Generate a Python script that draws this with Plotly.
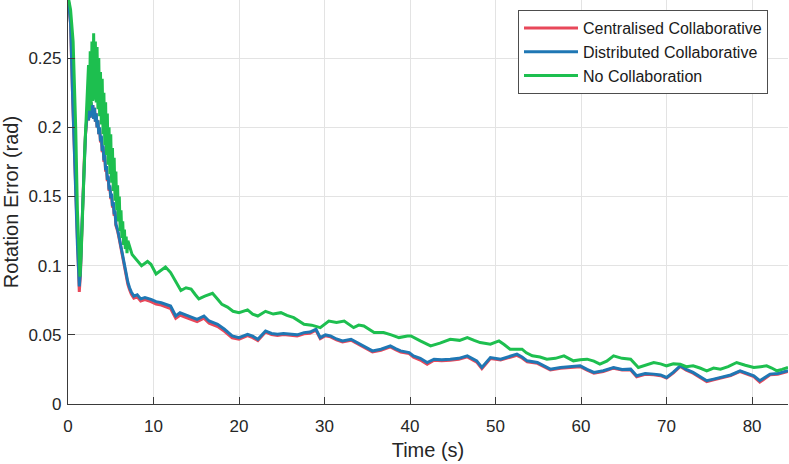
import plotly.graph_objects as go

# No Collaboration
t_none = [0, 0.3, 0.6, 0.9, 1.1, 1.3, 1.4, 1.55, 1.7, 1.85, 2.0, 2.15, 2.3,
          2.4, 2.5, 2.6, 2.7, 2.8, 2.9, 3.0, 3.1, 3.2, 3.3, 3.4, 3.5, 3.6, 3.7, 3.8, 3.9,
          4.0, 4.1, 4.2, 4.3, 4.4, 4.5, 4.6, 4.7, 4.8, 4.9, 5.0, 5.1, 5.2, 5.3, 5.4, 5.5,
          5.6, 5.7, 5.8, 5.9, 6.0, 6.1, 6.2, 6.3, 6.4, 6.5, 6.6, 6.7, 6.8, 6.9, 7.0,
          7.5, 8.1, 8.6, 9.3, 9.7, 10.3, 10.8, 11.4, 12.0, 12.6, 13.2, 13.8, 14.4, 14.9,
          15.3, 16.0, 16.9, 17.6, 18.0, 18.65, 19.3, 20.0, 21.0, 21.6, 22.2, 23.1, 24.0,
          24.9, 25.6, 26.4, 27.0, 27.6, 28.5, 29.5, 30.5, 31.4, 32.3, 33.4, 34.0, 34.6,
          35.8, 36.9, 37.8, 38.7, 39.7, 40.1, 41.2, 42.4, 43.5, 44.7, 45.8, 46.7, 47.5,
          48.2, 49.4, 50.4, 51.0, 51.7, 53.1, 53.6, 54.3, 55.2, 56.0, 57.0, 58.0, 59.1,
          59.9, 60.7, 61.5, 62.2, 63.0, 63.8, 64.8, 65.8, 66.7, 67.5, 68.5, 69.3, 70.0,
          70.8, 71.6, 72.3, 73.1, 73.9, 74.7, 75.5, 76.3, 77.2, 78.2, 79.2, 80.2, 81.0,
          81.7, 82.3, 82.9, 83.5, 84.2]
err_none = [0.295, 0.285, 0.262, 0.2, 0.14, 0.1, 0.092, 0.11, 0.143, 0.17, 0.19, 0.21, 0.235,
            0.245, 0.212, 0.255, 0.216, 0.262, 0.219, 0.268, 0.220, 0.262, 0.218, 0.258, 0.213,
            0.250, 0.208, 0.240, 0.202, 0.235, 0.195, 0.225, 0.187, 0.218, 0.180, 0.210, 0.173,
            0.200, 0.166, 0.195, 0.160, 0.185, 0.154, 0.178, 0.147, 0.168, 0.140, 0.158, 0.132,
            0.150, 0.125, 0.140, 0.120, 0.132, 0.115, 0.126, 0.112, 0.121, 0.109, 0.118,
            0.108, 0.104, 0.100, 0.103, 0.101, 0.094, 0.096, 0.099, 0.095, 0.088, 0.082, 0.084,
            0.083, 0.079, 0.076, 0.078, 0.080, 0.075, 0.072, 0.070, 0.067, 0.066, 0.068, 0.065,
            0.0636, 0.067, 0.065, 0.066, 0.064, 0.0624, 0.060, 0.0576, 0.057, 0.0552, 0.060,
            0.059, 0.060, 0.0552, 0.057, 0.0564, 0.0516, 0.0516, 0.050, 0.048, 0.0492, 0.0492,
            0.0456, 0.042, 0.044, 0.0468, 0.046, 0.048, 0.046, 0.0444, 0.0432, 0.0456, 0.043,
            0.0396, 0.0396, 0.037, 0.0348, 0.034, 0.0324, 0.033, 0.0348, 0.0312, 0.032, 0.0324,
            0.031, 0.0288, 0.031, 0.0348, 0.033, 0.0324, 0.0264, 0.028, 0.030, 0.029, 0.0276,
            0.029, 0.0288, 0.027, 0.0276, 0.026, 0.024, 0.026, 0.0252, 0.027, 0.030, 0.028,
            0.0264, 0.027, 0.0276, 0.026, 0.024, 0.025, 0.0264]

# Distributed / Centralised share the same time samples
t_collab = [0, 0.3, 0.55, 0.75, 0.93, 1.1, 1.32, 1.45, 1.6, 1.75, 1.9, 2.05, 2.2,
            2.3, 2.4, 2.5, 2.6, 2.7, 2.8, 2.9, 3.0, 3.1, 3.2, 3.3, 3.4, 3.5, 3.6, 3.7, 3.8,
            3.9, 4.0, 4.1, 4.2, 4.3, 4.4, 4.5, 4.6, 4.7, 4.8, 4.9, 5.0, 5.1, 5.2, 5.3, 5.4,
            5.5, 5.6, 5.8, 6.0, 6.2, 6.4, 6.6, 6.8, 7.0, 7.2, 7.4, 7.7, 8.1, 8.5, 9.0, 9.7,
            10.3, 10.9, 11.5, 12.0, 12.6, 13.1, 13.6, 14.3, 15.1, 15.9, 16.5, 17.5, 18.3,
            19.2, 20.0, 21.0, 21.6, 22.2, 23.1, 23.8, 24.5, 25.2, 26.0, 26.8, 27.6, 28.3,
            29.0, 29.5, 30.1, 30.7, 31.4, 32.1, 33.1, 34.2, 34.9, 35.6, 36.6, 37.7, 38.3,
            38.9, 39.9, 40.4, 41.2, 42.0, 42.8, 43.7, 44.7, 45.7, 46.7, 47.3, 47.8, 48.4,
            49.4, 50.6, 51.5, 52.5, 53.1, 53.7, 54.9, 55.6, 56.4, 57.6, 58.7, 59.9, 60.7,
            61.5, 62.6, 63.8, 64.8, 65.8, 66.5, 67.5, 68.5, 69.3, 70.0, 70.8, 71.6, 72.3,
            73.1, 73.9, 74.7, 75.5, 76.3, 77.5, 78.6, 79.4, 80.2, 80.9, 81.5, 82.1, 83.0, 84.2]
err_dist = [0.295, 0.275, 0.22, 0.18, 0.148, 0.115, 0.085, 0.095, 0.124, 0.15, 0.176, 0.195, 0.207,
            0.212, 0.205, 0.215, 0.207, 0.218, 0.208, 0.216, 0.206, 0.214, 0.204, 0.210, 0.200,
            0.205, 0.195, 0.200, 0.190, 0.194, 0.183, 0.187, 0.176, 0.180, 0.169, 0.172, 0.162,
            0.165, 0.155, 0.158, 0.149, 0.152, 0.143, 0.146, 0.137, 0.140, 0.130, 0.126, 0.120,
            0.113, 0.106, 0.100, 0.094, 0.088, 0.084, 0.081, 0.078, 0.079, 0.076, 0.077, 0.0756,
            0.074, 0.0732, 0.072, 0.0708, 0.0636, 0.066, 0.0648, 0.063, 0.0612, 0.0636, 0.060,
            0.0576, 0.054, 0.0492, 0.048, 0.0504, 0.049, 0.0468, 0.0528, 0.051, 0.0504, 0.051,
            0.0504, 0.050, 0.0516, 0.052, 0.054, 0.048, 0.050, 0.0492, 0.047, 0.0456, 0.0468,
            0.0432, 0.041, 0.0384, 0.0396, 0.042, 0.040, 0.0384, 0.0372, 0.0348, 0.033, 0.030,
            0.0324, 0.032, 0.0324, 0.033, 0.0348, 0.033, 0.0312, 0.0264, 0.0336, 0.0324, 0.034,
            0.036, 0.034, 0.0312, 0.030, 0.028, 0.0252, 0.0264, 0.027, 0.0276, 0.025, 0.0228,
            0.024, 0.0264, 0.025, 0.0252, 0.0204, 0.022, 0.0216, 0.021, 0.0192, 0.023, 0.0276,
            0.025, 0.0228, 0.020, 0.0168, 0.018, 0.0192, 0.021, 0.024, 0.022, 0.0204, 0.0168,
            0.019, 0.0216, 0.022, 0.024]
err_cent = [0.295, 0.275, 0.22, 0.18, 0.147, 0.113, 0.081, 0.093, 0.123, 0.15, 0.176, 0.195, 0.207,
            0.212, 0.205, 0.215, 0.207, 0.218, 0.208, 0.216, 0.206, 0.214, 0.204, 0.210, 0.200,
            0.205, 0.195, 0.199, 0.189, 0.193, 0.182, 0.186, 0.175, 0.179, 0.168, 0.171, 0.161,
            0.164, 0.154, 0.157, 0.148, 0.151, 0.142, 0.145, 0.136, 0.139, 0.129, 0.125, 0.119,
            0.112, 0.105, 0.0985, 0.0925, 0.0865, 0.0825, 0.0795, 0.0765, 0.0775, 0.0745, 0.0755, 0.074,
            0.0722, 0.0715, 0.070, 0.069, 0.062, 0.0642, 0.063, 0.0612, 0.0595, 0.062, 0.0584,
            0.056, 0.0525, 0.0478, 0.0468, 0.0495, 0.048, 0.0458, 0.052, 0.0502, 0.0496, 0.0502,
            0.0496, 0.0492, 0.0508, 0.0512, 0.0533, 0.0472, 0.0493, 0.0485, 0.0463, 0.0449, 0.0461,
            0.0425, 0.0403, 0.0377, 0.0389, 0.0413, 0.0393, 0.0376, 0.0364, 0.0338, 0.0318, 0.0287,
            0.0317, 0.0313, 0.0317, 0.0323, 0.0341, 0.0323, 0.0303, 0.0255, 0.0329, 0.0318, 0.0333,
            0.0352, 0.0333, 0.0305, 0.0294, 0.0274, 0.0246, 0.0259, 0.0265, 0.027, 0.0245, 0.0223,
            0.0235, 0.0259, 0.0245, 0.0246, 0.0197, 0.0215, 0.0211, 0.0205, 0.0187, 0.0225, 0.0271,
            0.0245, 0.0223, 0.0195, 0.0162, 0.0175, 0.0187, 0.0205, 0.0235, 0.0215, 0.0198, 0.0158,
            0.0185, 0.0211, 0.0215, 0.0235]

series = [
    ("Centralised Collaborative", t_collab, err_cent, "#e8485a"),
    ("Distributed Collaborative", t_collab, err_dist, "#1f77b4"),
    ("No Collaboration", t_none, err_none, "#1dbf4f"),
]

fig = go.Figure()
for name, t, e, c in series:
    fig.add_trace(go.Scatter(x=t, y=e, mode="lines", name=name,
                             line=dict(color=c, width=3)))

axis_style = dict(
    automargin=False,
    showgrid=True, gridcolor="#e3e3e3", gridwidth=1,
    showline=True, linecolor="#3a3a3a", linewidth=1.2, mirror=False,
    ticks="inside", ticklen=7, tickcolor="#3a3a3a", tickwidth=1,
    zeroline=False,
    tickfont=dict(size=17, color="#262626"),
)

fig.update_xaxes(range=[0, 84.2], dtick=10, ticklabelstandoff=6,
                 title=dict(text="Time (s)", font=dict(size=20, color="#262626"), standoff=8),
                 **axis_style)
fig.update_yaxes(range=[0, 0.292], dtick=0.05, ticklabelstandoff=2,
                 title=dict(text="Rotation Error (rad)", font=dict(size=20, color="#262626"), standoff=8),
                 **axis_style)

fig.update_layout(
    width=789, height=464,
    margin=dict(l=68, r=1, t=0, b=60),
    paper_bgcolor="white", plot_bgcolor="white",
    font=dict(family="Liberation Sans, Arial, sans-serif", color="#262626"),
    showlegend=True,
    legend=dict(x=0.625, y=0.975, xanchor="left", yanchor="top",
                bgcolor="white", bordercolor="#4d4d4d", borderwidth=1,
                font=dict(size=16, color="#1a1a1a"), itemwidth=54,
                tracegroupgap=0),
)

# page has a default 8px body margin; drop it so the figure sits at the window origin
fig.write_html("out.html", config={"displayModeBar": False},
               post_script="document.body.style.margin='0';")
